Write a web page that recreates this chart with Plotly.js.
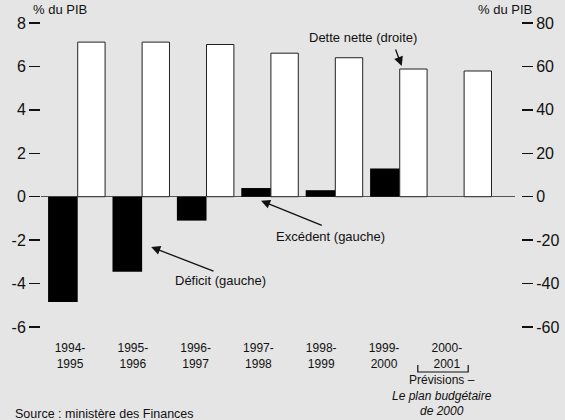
<!DOCTYPE html>
<html>
<head>
<meta charset="utf-8">
<script src="https://cdn.plot.ly/plotly-3.0.1.min.js"></script>
<style>
  html, body { margin: 0; padding: 0; background: #e5e5e5; }
  #chart { width: 565px; height: 420px; }
</style>
</head>
<body>
<div id="chart"></div>
<script>
// ---- data ----
const periods = ['1994-<br>1995', '1995-<br>1996', '1996-<br>1997', '1997-<br>1998', '1998-<br>1999', '1999-<br>2000', '2000-<br>2001'];
const soldeGauche = [-4.85, -3.45, -1.1, 0.4, 0.3, 1.3, 0];          // Déficit / Excédent (% du PIB, axe gauche)
const detteNetteDroite = [71.2, 71.2, 70.1, 66.1, 64.0, 58.8, 57.9];  // Dette nette (% du PIB, axe droit)
const leftTickVals = [-6, -4, -2, 0, 2, 4, 6, 8];
const leftTickText = ['-6', '-4', '-2', '0', '2', '4', '6', '8'];
const rightTickVals = [-60, -40, -20, 0, 20, 40, 60, 80];
const rightTickText = ['-60', '-40', '-20', '0', '20', '40', '60', '80'];

const idx = periods.map((_, i) => i);
const FONT = '"Liberation Sans", Arial, Helvetica, sans-serif';

const traces = [
  {
    type: 'bar', x: idx, y: soldeGauche, xaxis: 'x', yaxis: 'y',
    width: 0.46, offset: -0.46,
    marker: { color: '#000000', line: { width: 0 } },
    hoverinfo: 'skip', showlegend: false
  },
  {
    type: 'bar', x: idx, y: detteNetteDroite, xaxis: 'x', yaxis: 'y2',
    width: 0.425, offset: 0,
    marker: { color: '#ffffff', line: { color: '#222222', width: 1 } },
    hoverinfo: 'skip', showlegend: false
  },
  {
    type: 'scatter', mode: 'markers', x: idx, y: idx.map(() => null),
    xaxis: 'x2', yaxis: 'y', hoverinfo: 'skip', showlegend: false
  }
];

const arrowBase = { text: '', showarrow: true, arrowhead: 2, arrowsize: 1.4, arrowwidth: 1.3, arrowcolor: '#111', standoff: 0, startstandoff: 0 };
const txt = (o) => Object.assign({ showarrow: false, font: { family: FONT, size: 13, color: '#111' }, xanchor: 'center', yanchor: 'middle' }, o);

const layout = {
  width: 565, height: 420,
  margin: { l: 41, r: 44, t: 23, b: 93, pad: 0 },
  paper_bgcolor: '#e5e5e5', plot_bgcolor: '#e5e5e5',
  font: { family: FONT, color: '#111' },
  barmode: 'overlay',
  showlegend: false,
  xaxis: {
    domain: [0, 0.9875], range: [-0.570, 6.790],
    showgrid: false, zeroline: false, showline: false, showticklabels: false, ticks: ''
  },
  xaxis2: {
    overlaying: 'x', anchor: 'y', domain: [0, 0.9875], range: [-0.462, 7.086],
    tickvals: idx, ticktext: periods, ticks: '', ticklabelstandoff: 12,
    showgrid: false, zeroline: false, showline: false,
    tickfont: { family: FONT, size: 12, color: '#111' }
  },
  yaxis: {
    range: [-6, 8], tickvals: leftTickVals, ticktext: leftTickText,
    ticks: 'outside', ticklen: 11, tickwidth: 1.3, tickcolor: '#111',
    showgrid: false, showline: false,
    zeroline: true, zerolinecolor: '#555', zerolinewidth: 1,
    tickfont: { family: FONT, size: 16, color: '#111' }
  },
  yaxis2: {
    overlaying: 'y', side: 'right', anchor: 'free', position: 1,
    range: [-60, 80], tickvals: rightTickVals, ticktext: rightTickText,
    ticks: 'outside', ticklen: 11, tickwidth: 1.3, tickcolor: '#111',
    showgrid: false, showline: false, zeroline: false,
    tickfont: { family: FONT, size: 16, color: '#111' }
  },
  shapes: [
    { type: 'path', xref: 'paper', yref: 'paper',
      path: 'M 0.785 -0.125 L 0.785 -0.148 L 0.890 -0.148 L 0.890 -0.125',
      line: { color: '#111', width: 1.2 } }
  ],
  annotations: [
    txt({ xref: 'paper', yref: 'paper', x: 0.0406, y: 1.046, text: '% du PIB' }),
    txt({ xref: 'paper', yref: 'paper', x: 0.966, y: 1.043, text: '% du PIB' }),
    txt({ xref: 'x', yref: 'y', x: 4.430, y: 7.31, text: 'Dette nette (droite)' }),
    txt({ xref: 'x', yref: 'y', x: 3.918, y: -1.81, text: 'Excédent (gauche)' }),
    txt({ xref: 'x', yref: 'y', x: 2.210, y: -3.88, text: 'Déficit (gauche)' }),
    Object.assign({}, arrowBase, { xref: 'x', yref: 'y2', x: 5.031, y: 60.2, ax: -6.7, ay: -18 }),
    Object.assign({}, arrowBase, { xref: 'x', yref: 'y', x: 2.846, y: -0.184, ax: 62.3, ay: 25.3 }),
    Object.assign({}, arrowBase, { xref: 'x', yref: 'y', x: 1.141, y: -2.317, ax: 63.8, ay: 24.7 }),
    txt({ xref: 'paper', yref: 'paper', x: 0.836, y: -0.2237,
          text: 'Prévisions –<br><i>Le plan budgétaire</i><br><i>de 2000</i>',
          font: { family: FONT, size: 12, color: '#111' } }),
    txt({ xref: 'paper', yref: 'paper', x: -0.0583, y: -0.286, xanchor: 'left',
          text: 'Source : ministère des Finances',
          font: { family: FONT, size: 12.5, color: '#111' } })
  ]
};

Plotly.newPlot('chart', traces, layout, { staticPlot: true, displayModeBar: false });
</script>
</body>
</html>
